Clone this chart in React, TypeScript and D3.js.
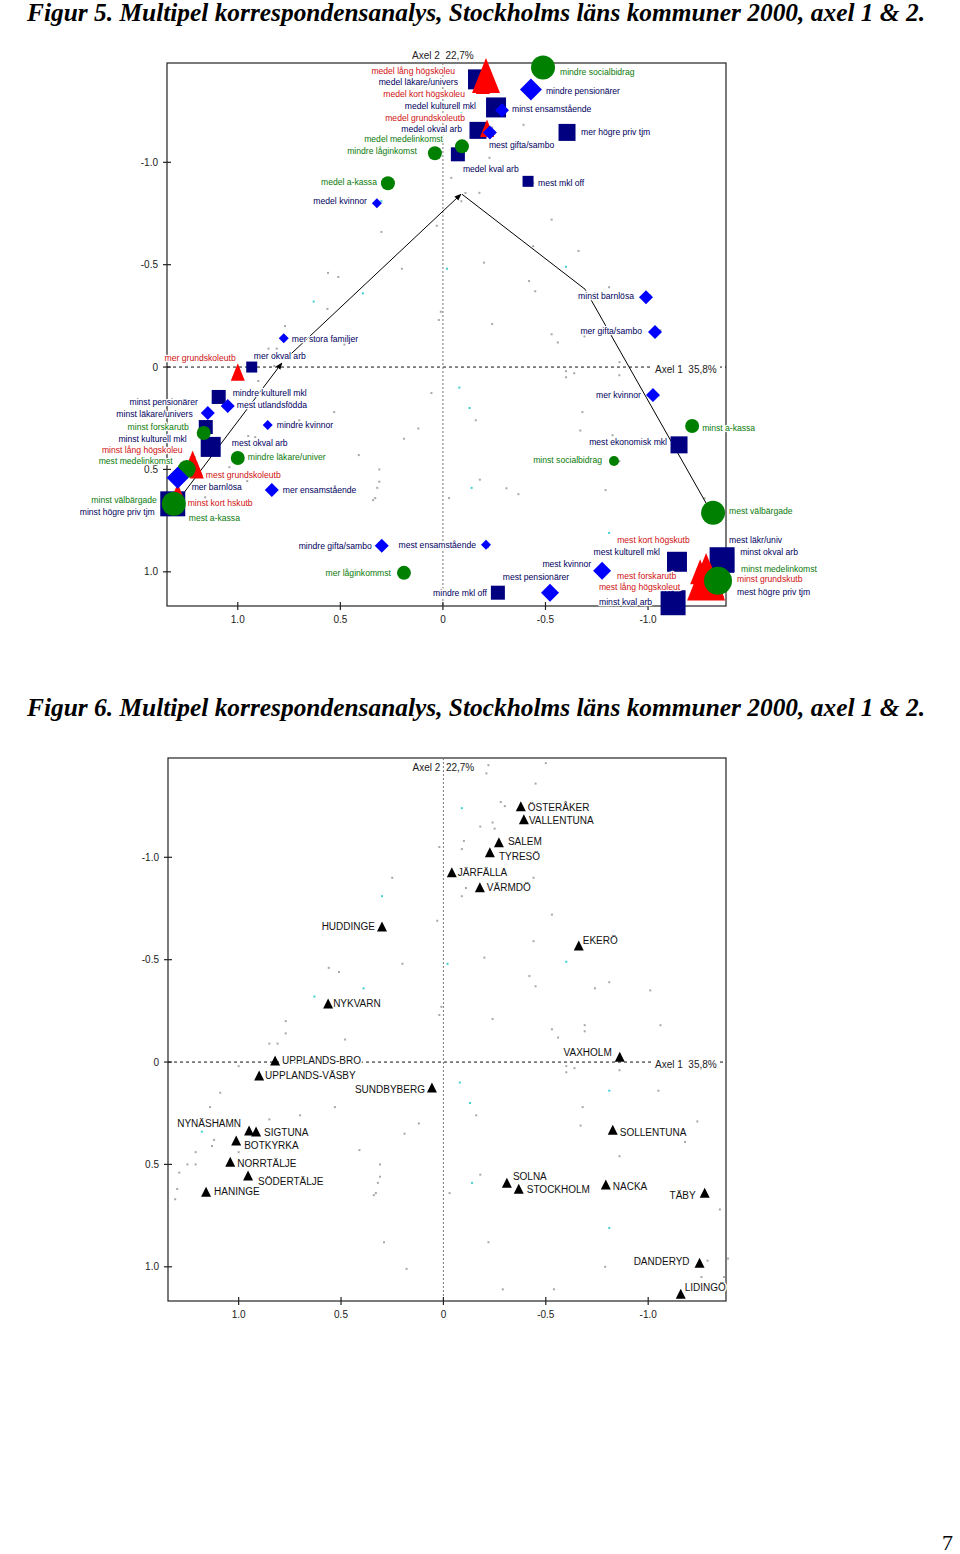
import React from 'react';
import * as d3 from 'd3';

type Kind = 'sq' | 'di' | 'ci' | 'tr';
type Anchor = 'start' | 'middle' | 'end';

// ---------- axes ----------
const xTickValues = [1.0, 0.5, 0, -0.5, -1.0];
const xTickLabels = ['1.0', '0.5', '0', '-0.5', '-1.0'];
const yTickValues = [-1.0, -0.5, 0, 0.5, 1.0];
const yTickLabels = ['-1.0', '-0.5', '0', '0.5', '1.0'];
const xDomain: [number, number] = [1.345, -1.38];
const yDomain: [number, number] = [-1.485, 1.167];

const title5 = 'Figur 5. Multipel korrespondensanalys, Stockholms läns kommuner 2000, axel 1 & 2.';
const title6 = 'Figur 6. Multipel korrespondensanalys, Stockholms läns kommuner 2000, axel 1 & 2.';
const axis1Label = 'Axel 1\u00a0\u00a035,8%';
const axis2Label = 'Axel 2\u00a0\u00a022,7%';
const pageNumber = '7';

// ---------- Figure 5: modalities [label, axis1, axis2, kind, weight] ----------
const modalities: [string, number, number, Kind, number][] = [
  ['medel lång högskoleu', -0.210, -1.424, 'tr', 4],
  ['medel läkare/univers', -0.171, -1.405, 'sq', 4],
  ['medel kort högskoleu', -0.195, -1.376, 'tr', 2],
  ['mindre socialbidrag', -0.488, -1.463, 'ci', 4],
  ['mindre pensionärer', -0.429, -1.356, 'di', 4],
  ['medel kulturell mkl', -0.259, -1.268, 'sq', 4],
  ['minst ensamstående', -0.288, -1.254, 'di', 2],
  ['medel grundskoleutb', -0.215, -1.166, 'tr', 2],
  ['medel okval arb', -0.171, -1.156, 'sq', 3],
  ['mest gifta/sambo', -0.229, -1.146, 'di', 2],
  ['mer högre priv tjm', -0.605, -1.146, 'sq', 3],
  ['medel medelinkomst', -0.093, -1.078, 'ci', 2],
  ['mindre låginkomst', 0.039, -1.044, 'ci', 2],
  ['medel kval arb', -0.073, -1.039, 'sq', 2],
  ['mest mkl off', -0.415, -0.907, 'sq', 1],
  ['medel a-kassa', 0.268, -0.898, 'ci', 2],
  ['medel kvinnor', 0.322, -0.800, 'di', 1],
  ['minst barnlösa', -0.990, -0.341, 'di', 2],
  ['mer gifta/sambo', -1.034, -0.171, 'di', 2],
  ['mer kvinnor', -1.024, 0.137, 'di', 2],
  ['mer stora familjer', 0.776, -0.141, 'di', 1],
  ['mer grundskoleutb', 1.000, 0.024, 'tr', 2],
  ['mer okval arb', 0.932, 0.000, 'sq', 1],
  ['minst a-kassa', -1.215, 0.288, 'ci', 2],
  ['mest ekonomisk mkl', -1.151, 0.380, 'sq', 3],
  ['minst socialbidrag', -0.834, 0.459, 'ci', 1],
  ['mest välbärgade', -1.317, 0.712, 'ci', 4],
  ['mindre kulturell mkl', 1.093, 0.146, 'sq', 2],
  ['mest utlandsfödda', 1.049, 0.190, 'di', 2],
  ['minst pensionärer', 1.146, 0.224, 'di', 2],
  ['minst läkare/univers', 1.156, 0.293, 'sq', 2],
  ['minst forskarutb', 1.166, 0.322, 'ci', 2],
  ['minst kulturell mkl', 1.132, 0.390, 'sq', 4],
  ['mest okval arb', 1.122, 0.400, 'sq', 2],
  ['minst lång högskoleu', 1.220, 0.468, 'tr', 3],
  ['mest medelinkomst', 1.249, 0.498, 'ci', 3],
  ['mest grundskoleutb', 1.200, 0.502, 'tr', 2],
  ['mer barnlösa', 1.293, 0.541, 'di', 4],
  ['mindre läkare/univer', 1.000, 0.444, 'ci', 2],
  ['mindre kvinnor', 0.854, 0.283, 'di', 1],
  ['mer ensamstående', 0.834, 0.600, 'di', 2],
  ['minst kort hskutb', 1.293, 0.610, 'tr', 2],
  ['minst högre priv tjm', 1.317, 0.668, 'sq', 5],
  ['minst välbärgade', 1.312, 0.668, 'ci', 4],
  ['mest a-kassa', 1.302, 0.678, 'ci', 3],
  ['mindre gifta/sambo', 0.298, 0.873, 'di', 2],
  ['mer låginkommst', 0.190, 1.005, 'ci', 2],
  ['mest ensamstående', -0.210, 0.868, 'di', 1],
  ['mindre mkl off', -0.268, 1.102, 'sq', 2],
  ['mest pensionärer', -0.522, 1.102, 'di', 3],
  ['mest kvinnor', -0.776, 0.995, 'di', 3],
  ['mest kulturell mkl', -1.141, 0.951, 'sq', 4],
  ['mest kort högskutb', -1.254, 1.000, 'tr', 3],
  ['mest forskarutb', -1.268, 1.015, 'tr', 3],
  ['mest lång högskoleut', -1.283, 1.024, 'tr', 5],
  ['minst grundskutb', -1.302, 1.039, 'tr', 4],
  ['mest läkr/univ', -1.361, 0.941, 'sq', 5],
  ['minst okval arb', -1.371, 0.956, 'sq', 4],
  ['minst medelinkomst', -1.341, 1.044, 'ci', 5],
  ['mest högre priv tjm', -1.351, 1.063, 'sq', 2],
  ['minst kval arb', -1.122, 1.151, 'sq', 5],
];

// trajectory arrows (axis1, axis2)
const trajectories: [number, number][][] = [
  [[1.307, 0.673], [0.785, -0.020]],
  [[0.746, -0.059], [-0.088, -0.844]],
  [[-0.093, -0.844], [-0.693, -0.380], [-1.307, 0.707]],
];

// ---------- Figure 6: municipalities [name, axis1, axis2] ----------
const municipalities: [string, number, number][] = [
  ['ÖSTERÅKER', -0.378, -1.247],
  ['VALLENTUNA', -0.393, -1.183],
  ['SALEM', -0.271, -1.071],
  ['TYRESÖ', -0.227, -1.022],
  ['JÄRFÄLLA', -0.041, -0.924],
  ['VÄRMDÖ', -0.178, -0.851],
  ['HUDDINGE', 0.300, -0.660],
  ['EKERÖ', -0.661, -0.567],
  ['NYKVARN', 0.563, -0.284],
  ['UPPLANDS-BRO', 0.822, -0.005],
  ['UPPLANDS-VÄSBY', 0.900, 0.068],
  ['SUNDBYBERG', 0.056, 0.127],
  ['VAXHOLM', -0.861, -0.024],
  ['NYNÄSHAMN', 0.949, 0.337],
  ['SIGTUNA', 0.915, 0.342],
  ['BOTKYRKA', 1.012, 0.386],
  ['NORRTÄLJE', 1.041, 0.489],
  ['SÖDERTÄLJE', 0.954, 0.557],
  ['HANINGE', 1.159, 0.636],
  ['SOLLENTUNA', -0.827, 0.333],
  ['SOLNA', -0.310, 0.592],
  ['STOCKHOLM', -0.368, 0.621],
  ['NACKA', -0.793, 0.601],
  ['TÄBY', -1.276, 0.641],
  ['DANDERYD', -1.251, 0.983],
  ['LIDINGÖ', -1.159, 1.134],
];

// supplementary points (small dots): [axis1, axis2, cyan?]
const smallDots: [number, number, number][] = [
  [-0.22, -1.45, 0], [-0.21, -1.41, 0], [-0.50, -1.46, 0], [-0.45, -1.36, 0], [-0.09, -1.24, 1],
  [-0.28, -1.27, 0], [-0.30, -1.25, 0], [-0.18, -1.15, 0], [-0.24, -1.17, 0], [-0.25, -1.14, 0],
  [-0.10, -1.08, 0], [-0.09, -1.04, 0], [0.02, -1.05, 0], [0.25, -0.90, 0], [0.30, -0.81, 1],
  [-0.44, -0.90, 0], [-0.11, -0.85, 0], [-0.09, -0.81, 0], [-0.53, -0.72, 0], [0.03, -0.69, 0],
  [-0.44, -0.59, 0], [-0.20, -0.51, 0], [-0.02, -0.48, 1], [-0.60, -0.49, 1], [0.20, -0.48, 0],
  [0.56, -0.46, 0], [0.51, -0.44, 0], [-0.42, -0.42, 0], [-0.45, -0.37, 0], [-0.74, -0.36, 0],
  [-0.81, -0.39, 0], [-1.01, -0.35, 0], [0.39, -0.36, 1], [0.63, -0.32, 1], [0.01, -0.27, 0],
  [0.02, -0.23, 0], [-0.24, -0.21, 0], [0.77, -0.20, 0], [-0.69, -0.18, 0], [-1.06, -0.18, 0],
  [-0.53, -0.16, 0], [0.77, -0.14, 0], [0.85, -0.09, 0], [0.81, -0.09, 0], [0.48, -0.11, 0],
  [-0.69, -0.15, 0], [-0.56, -0.12, 0], [1.00, 0.02, 0], [-0.60, 0.02, 0], [-0.64, 0.03, 0],
  [-0.60, 0.05, 0], [-0.86, 0.04, 0], [-0.08, 0.10, 1], [-0.13, 0.20, 1], [-0.81, 0.14, 1],
  [-1.05, 0.14, 0], [1.09, 0.15, 0], [1.14, 0.22, 0], [0.53, 0.22, 0], [0.70, 0.26, 0],
  [-0.16, 0.26, 0], [-0.68, 0.22, 0], [0.85, 0.28, 0], [0.12, 0.30, 0], [-0.67, 0.31, 0],
  [-1.24, 0.29, 0], [1.18, 0.34, 1], [0.19, 0.35, 0], [1.12, 0.38, 0], [1.13, 0.41, 0],
  [-1.18, 0.39, 0], [1.00, 0.44, 0], [1.21, 0.44, 0], [0.41, 0.43, 0], [-0.86, 0.46, 0],
  [1.25, 0.50, 0], [1.21, 0.50, 0], [0.31, 0.50, 0], [1.29, 0.54, 0], [0.31, 0.56, 0],
  [0.32, 0.59, 0], [0.59, 0.59, 0], [-0.18, 0.55, 0], [-0.14, 0.59, 1], [1.30, 0.62, 0],
  [0.33, 0.64, 0], [0.34, 0.65, 0], [1.31, 0.67, 0], [-0.03, 0.64, 0], [-1.35, 0.72, 0],
  [0.29, 0.88, 0], [-0.22, 0.88, 0], [-0.81, 0.81, 1], [0.18, 1.01, 0], [-0.79, 1.00, 0],
  [-1.39, 0.96, 0], [-1.29, 0.97, 0], [-1.26, 1.05, 0], [-1.37, 1.05, 0], [-0.29, 1.11, 0],
  [-0.54, 1.11, 0], [-1.15, 1.15, 0],
];

// ---------- layout (label placement, px offsets from the marker) ----------
const modalityLabelPlacement: Record<string, [number, number, Anchor]> = {
  'medel lång högskoleu': [-31, -4, 'end'],
  'medel läkare/univers': [-20, 3, 'end'],
  'medel kort högskoleu': [-18, 9, 'end'],
  'mindre socialbidrag': [17, 4, 'start'],
  'mindre pensionärer': [15, 2, 'start'],
  'medel kulturell mkl': [-20, -1, 'end'],
  'minst ensamstående': [10, -1, 'start'],
  'medel grundskoleutb': [-22, -10, 'end'],
  'medel okval arb': [-16, -1, 'end'],
  'mest gifta/sambo': [-1, 13, 'start'],
  'mer högre priv tjm': [14, 0, 'start'],
  'medel medelinkomst': [-19, -7, 'end'],
  'mindre låginkomst': [-18, -2, 'end'],
  'medel kval arb': [5, 15, 'start'],
  'mest mkl off': [10, 2, 'start'],
  'medel a-kassa': [-11, -1, 'end'],
  'medel kvinnor': [-10, -2, 'end'],
  'minst barnlösa': [-12, -1, 'end'],
  'mer gifta/sambo': [-13, -1, 'end'],
  'mer kvinnor': [-12, 0, 'end'],
  'mer stora familjer': [8, 1, 'start'],
  'mer grundskoleutb': [-2, -14, 'end'],
  'mer okval arb': [2, -11, 'start'],
  'minst a-kassa': [10, 2, 'start'],
  'mest ekonomisk mkl': [-12, -3, 'end'],
  'minst socialbidrag': [-12, -1, 'end'],
  'mest välbärgade': [16, -2, 'start'],
  'mindre kulturell mkl': [14, -4, 'start'],
  'mest utlandsfödda': [9, -1, 'start'],
  'minst pensionärer': [-10, -11, 'end'],
  'minst läkare/univers': [-13, -13, 'end'],
  'minst forskarutb': [-15, -6, 'end'],
  'minst kulturell mkl': [-24, -8, 'end'],
  'mest okval arb': [19, -6, 'start'],
  'minst lång högskoleu': [-10, -13, 'end'],
  'mest medelinkomst': [-14, -8, 'end'],
  'mest grundskoleutb': [9, 5, 'start'],
  'mer barnlösa': [14, 9, 'start'],
  'mindre läkare/univer': [10, -1, 'start'],
  'mindre kvinnor': [9, 0, 'start'],
  'mer ensamstående': [11, 0, 'start'],
  'minst kort hskutb': [10, 11, 'start'],
  'minst högre priv tjm': [-18, 8, 'end'],
  'minst välbärgade': [-17, -4, 'end'],
  'mest a-kassa': [13, 12, 'start'],
  'mindre gifta/sambo': [-10, 0, 'end'],
  'mer låginkommst': [-13, 0, 'end'],
  'mest ensamstående': [-10, 0, 'end'],
  'mindre mkl off': [-11, 0, 'end'],
  'mest pensionärer': [-14, -16, 'middle'],
  'mest kvinnor': [-11, -7, 'end'],
  'mest kulturell mkl': [-17, -10, 'end'],
  'mest kort högskutb': [-83, -32, 'start'],
  'mest forskarutb': [-86, 1, 'start'],
  'mest lång högskoleut': [-26, 10, 'end'],
  'minst grundskutb': [27, -1, 'start'],
  'mest läkr/univ': [7, -20, 'start'],
  'minst okval arb': [16, -11, 'start'],
  'minst medelinkomst': [23, -12, 'start'],
  'mest högre priv tjm': [17, 7, 'start'],
  'minst kval arb': [-21, -1, 'end'],
};

const municipalityLabelPlacement: Record<string, [number, number, Anchor]> = {
  'ÖSTERÅKER': [7, 1, 'start'],
  'VALLENTUNA': [5, 1, 'start'],
  'SALEM': [9, -1, 'start'],
  'TYRESÖ': [9, 4, 'start'],
  'JÄRFÄLLA': [6, 0, 'start'],
  'VÄRMDÖ': [7, 0, 'start'],
  'HUDDINGE': [-7, 0, 'end'],
  'EKERÖ': [4, -5, 'start'],
  'NYKVARN': [5, 0, 'start'],
  'UPPLANDS-BRO': [7, -1, 'start'],
  'UPPLANDS-VÄSBY': [6, 0, 'start'],
  'SUNDBYBERG': [-7, 1, 'end'],
  'VAXHOLM': [-8, -5, 'end'],
  'NYNÄSHAMN': [-8, -8, 'end'],
  'SIGTUNA': [8, 0, 'start'],
  'BOTKYRKA': [8, 4, 'start'],
  'NORRTÄLJE': [7, 1, 'start'],
  'SÖDERTÄLJE': [10, 5, 'start'],
  'HANINGE': [8, -1, 'start'],
  'SOLLENTUNA': [7, 2, 'start'],
  'SOLNA': [6, -7, 'start'],
  'STOCKHOLM': [8, 0, 'start'],
  'NACKA': [7, 1, 'start'],
  'TÄBY': [-9, 2, 'end'],
  'DANDERYD': [-10, -2, 'end'],
  'LIDINGÖ': [4, -7, 'start'],
};

const SANS = "'Liberation Sans', Arial, Helvetica, sans-serif";
const SERIF = "'Liberation Serif', 'Times New Roman', serif";

const markerColor: Record<Kind, string> = { sq: '#000080', di: '#0000ff', ci: '#008000', tr: '#ff0000' };
const labelColor: Record<Kind, string> = { sq: '#000060', di: '#000060', ci: '#0a7a0a', tr: '#d01010' };
const squareSide = [0, 11, 14, 17, 20, 25];
const diamondHalf = [0, 5, 7, 9, 11, 13];
const circleR = [0, 5, 7, 9, 12, 14];
const triangleW = [0, 11, 14, 20, 28, 38];
const drawOrder: Kind[] = ['sq', 'tr', 'ci', 'di'];

interface Frame { left: number; right: number; top: number; bottom: number }

function makeScales(f: Frame) {
  const x = d3.scaleLinear().domain(xDomain).range([f.left, f.right]);
  const y = d3.scaleLinear().domain(yDomain).range([f.top, f.bottom]);
  return { x, y };
}

function AxesFrame({ f, x, y }: { f: Frame; x: d3.ScaleLinear<number, number>; y: d3.ScaleLinear<number, number> }) {
  const x0 = x(0);
  const y0 = y(0);
  return (
    <g>
      <rect x={f.left} y={f.top} width={f.right - f.left} height={f.bottom - f.top} fill="#fff" stroke="#222" strokeWidth={1.2} />
      <line x1={f.left} x2={f.right} y1={y0} y2={y0} stroke="#111" strokeWidth={1} strokeDasharray="3,3" />
      <line x1={x0} x2={x0} y1={f.top} y2={f.bottom} stroke="#777" strokeWidth={1} strokeDasharray="2,2" />
      {yTickValues.map((v, i) => (
        <g key={'yt' + i}>
          <line x1={f.left - 4} x2={f.left + 4} y1={y(v)} y2={y(v)} stroke="#222" strokeWidth={1.2} />
          <text x={f.left - 9} y={y(v)} dy="0.35em" textAnchor="end" fontSize={10} fontFamily={SANS} fill="#222">{yTickLabels[i]}</text>
        </g>
      ))}
      {xTickValues.map((v, i) => (
        <g key={'xt' + i}>
          <line x1={x(v)} x2={x(v)} y1={f.bottom - 4} y2={f.bottom + 4} stroke="#222" strokeWidth={1.2} />
          <text x={x(v)} y={f.bottom + 13} dy="0.35em" textAnchor="middle" fontSize={10} fontFamily={SANS} fill="#222">{xTickLabels[i]}</text>
        </g>
      ))}
    </g>
  );
}

function AxisTitles({ f, x, y, axis2Outside }: { f: Frame; x: d3.ScaleLinear<number, number>; y: d3.ScaleLinear<number, number>; axis2Outside: boolean }) {
  const halo = { paintOrder: 'stroke' as const };
  const a1x = f.right - 71;
  const a1y = y(0) + 2;
  return (
    <g fontFamily={SANS} fontSize={10} fill="#222">
      <text x={x(0)} y={axis2Outside ? f.top - 8 : f.top + 9} dy="0.35em" textAnchor="middle"
        stroke="#fff" strokeWidth={3} style={halo}>{axis2Label}</text>
      <rect x={a1x - 3} y={a1y - 6} width={68} height={12} fill="#fff" />
      <text x={a1x} y={a1y} dy="0.35em" textAnchor="start">{axis1Label}</text>
    </g>
  );
}

function shapePath(kind: Kind, w: number): string {
  if (kind === 'sq') {
    const s = squareSide[w];
    return `M${-s / 2},${-s / 2}h${s}v${s}h${-s}Z`;
  }
  if (kind === 'di') {
    const h = diamondHalf[w];
    return `M0,${-h}L${h},0L0,${h}L${-h},0Z`;
  }
  if (kind === 'tr') {
    const tw = triangleW[w];
    const th = tw * 1.25;
    return `M0,${-th / 2}L${tw / 2},${th / 2}L${-tw / 2},${th / 2}Z`;
  }
  return '';
}

function Figure5() {
  const f: Frame = { left: 167, right: 726, top: 63, bottom: 606 };
  const { x, y } = makeScales(f);
  const line = d3.line<[number, number]>().x(d => x(d[0])).y(d => y(d[1]));
  return (
    <g>
      <AxesFrame f={f} x={x} y={y} />
      {smallDots.map((d, i) => (
        <rect key={'d' + i} x={x(d[0]) - 1} y={y(d[1]) - 1} width={2} height={2} fill={d[2] ? '#40d0d0' : '#a8a8a8'} />
      ))}
      {municipalities.map((d, i) => (
        <rect key={'m' + i} x={x(d[1]) - 1} y={y(d[2]) - 1} width={2} height={2} fill="#a8a8a8" />
      ))}
      {trajectories.map((t, i) => (
        <path key={'t' + i} d={line(t) || ''} fill="none" stroke="#000" strokeWidth={1} markerEnd="url(#arrowhead)" />
      ))}
      {drawOrder.map(k =>
        modalities.filter(m => m[3] === k).map((m, i) => {
          const cx = x(m[1]);
          const cy = y(m[2]);
          if (k === 'ci') {
            return <circle key={k + i} cx={cx} cy={cy} r={circleR[m[4]]} fill={markerColor[k]} />;
          }
          return <path key={k + i} transform={`translate(${cx},${cy})`} d={shapePath(k, m[4])} fill={markerColor[k]} />;
        })
      )}
      <g fontFamily={SANS} fontSize={8.6}>
        {modalities.map((m, i) => {
          const p = modalityLabelPlacement[m[0]] || [10, 0, 'start'];
          return (
            <text key={'l' + i} x={x(m[1]) + p[0]} y={y(m[2]) + p[1]} dy="0.35em" textAnchor={p[2]}
              fill={labelColor[m[3]]} stroke="#fff" strokeWidth={2.5} strokeLinejoin="round" style={{ paintOrder: 'stroke' }}>
              {m[0]}
            </text>
          );
        })}
      </g>
      <AxisTitles f={f} x={x} y={y} axis2Outside={true} />
    </g>
  );
}

function Figure6() {
  const f: Frame = { left: 168, right: 726, top: 758, bottom: 1301 };
  const { x, y } = makeScales(f);
  return (
    <g>
      <AxesFrame f={f} x={x} y={y} />
      {smallDots.map((d, i) => (
        <rect key={'d' + i} x={x(d[0]) - 1} y={y(d[1]) - 1} width={2} height={2} fill={d[2] ? '#40d0d0' : '#a8a8a8'} />
      ))}
      <g fontFamily={SANS} fontSize={10}>
        {municipalities.map((m, i) => {
          const p = municipalityLabelPlacement[m[0]] || [7, 0, 'start'];
          return (
            <text key={'l' + i} x={x(m[1]) + p[0]} y={y(m[2]) + p[1]} dy="0.35em" textAnchor={p[2]}
              fill="#111" stroke="#fff" strokeWidth={3} strokeLinejoin="round" style={{ paintOrder: 'stroke' }}>
              {m[0]}
            </text>
          );
        })}
      </g>
      {municipalities.map((m, i) => (
        <path key={'tri' + i} transform={`translate(${x(m[1])},${y(m[2])})`} d="M0,-5.5L5,4.5L-5,4.5Z" fill="#000" />
      ))}
      <AxisTitles f={f} x={x} y={y} axis2Outside={false} />
    </g>
  );
}

export default function App() {
  const titleProps = {
    fontFamily: SERIF, fontStyle: 'italic', fontWeight: 'bold', fontSize: 24.5, fill: '#000',
    textLength: 898, lengthAdjust: 'spacingAndGlyphs' as const,
  };
  return (
    <svg width={960} height={1554} viewBox="0 0 960 1554"
      style={{ position: 'absolute', left: 0, top: 0, background: '#fff' }}>
      <defs>
        <marker id="arrowhead" viewBox="0 0 10 10" refX="9" refY="5" markerWidth="7" markerHeight="7" orient="auto">
          <path d="M0,1L10,5L0,9Z" fill="#000" />
        </marker>
      </defs>
      <rect x={0} y={0} width={960} height={1554} fill="#fff" />
      <text x={27} y={21} {...titleProps}>{title5}</text>
      <Figure5 />
      <text x={27} y={716} {...titleProps}>{title6}</text>
      <Figure6 />
      <text x={942} y={1550} fontFamily={SERIF} fontSize={22} fill="#000">{pageNumber}</text>
    </svg>
  );
}
